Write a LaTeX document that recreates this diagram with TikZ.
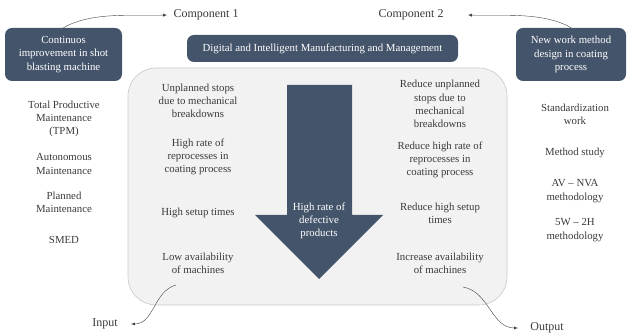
\documentclass[tikz,border=0pt]{standalone}
\usepackage{fontspec}
\setmainfont{Liberation Serif}
\usetikzlibrary{positioning}
\definecolor{slateblue}{HTML}{44546A}
\definecolor{panelgray}{HTML}{F2F2F2}
\definecolor{panelline}{HTML}{C8C8C8}
\definecolor{textgray}{HTML}{3A3A3A}

\begin{document}
\begin{tikzpicture}[x=1pt, y=1pt, semithick, text=textgray, font=\fontsize{10.8}{13.3}\selectfont,
  darkbox/.style={rectangle, rounded corners=7pt, fill=slateblue, text=white, align=center, inner sep=0pt},
  item/.style={align=center, inner sep=0pt},
  tag/.style={font=\fontsize{12}{14}\selectfont, inner sep=0pt},
  link/.style={-latex, thin, black!75}]
  \useasboundingbox (0,0) rectangle (629,334);
  % central panel and downward arrow
  \filldraw[fill=panelgray, draw=panelline, rounded corners=28pt] (128,29) rectangle (507,266);
  \fill[slateblue] (287,249) -- (352,249) -- (352,119) -- (383,119) -- (319,55) -- (255,119) -- (287,119) -- cycle;
  \node[item, text=white] (defect) at (319,113) {High rate of\\defective\\products};
  % boxes
  \node[darkbox, minimum width=117, minimum height=53] (cib) at (63.5,279.5) {Continuos\\improvement in shot\\blasting machine};
  \node[darkbox, minimum width=110, minimum height=53] (nwm) at (571,279.5) {New work method\\design in coating\\process};
  \node[darkbox, minimum width=271, minimum height=27] (dim) at (322.5,285.5) {Digital and Intelligent Manufacturing and Management};
  % labels
  \node[tag] (comp1) at (206,319) {Component 1};
  \node[tag] (comp2) at (411,319) {Component 2};
  \node[tag] (input) at (105,10) {Input};
  \node[tag] (output) at (547,6) {Output};
  % left tools
  \node[item] (tpm) at (64,215) {Total Productive\\Maintenance\\(TPM)};
  \node[item] (am) at (64,170) {Autonomous\\Maintenance};
  \node[item] (pm) at (64,132) {Planned\\Maintenance};
  \node[item] (smed) at (64,94) {SMED};
  % problems
  \node[item] (stops) at (198,233) {Unplanned stops\\due to mechanical\\breakdowns};
  \node[item] (rework) at (198,177) {High rate of\\reprocesses in\\coating process};
  \node[item] (setup) at (198,121) {High setup times};
  \node[item] (avail) at (198,71) {Low availability\\of machines};
  % goals
  \node[item] (rstops) at (440,230) {Reduce unplanned\\stops due to\\mechanical\\breakdowns};
  \node[item] (rrework) at (440,174) {Reduce high rate of\\reprocesses in\\coating process};
  \node[item] (rsetup) at (440,121) {Reduce high setup\\times};
  \node[item] (ravail) at (440,71) {Increase availability\\of machines};
  % right tools
  \node[item] (std) at (575,220) {Standardization\\work};
  \node[item] (ms) at (575,181) {Method study};
  \node[item] (avnva) at (575,143) {AV -- NVA\\methodology};
  \node[item] (wh) at (575,104) {5W -- 2H\\methodology};
  % connectors
  \coordinate (inp) at (176,49);
  \coordinate (outp) at (463,47);
  \draw[link] (cib.north) to[out=30, in=182, looseness=0.8] ([xshift=-6pt]comp1.west);
  \draw[link] (nwm.north) to[out=150, in=-2, looseness=0.8] ([xshift=24pt]comp2.east);
  \draw[link] (inp) to[out=195, in=0] ([xshift=13pt]input.east);
  \draw[link] (outp) to[out=-10, in=180] ([xshift=-12pt]output.west);
\end{tikzpicture}
\end{document}
